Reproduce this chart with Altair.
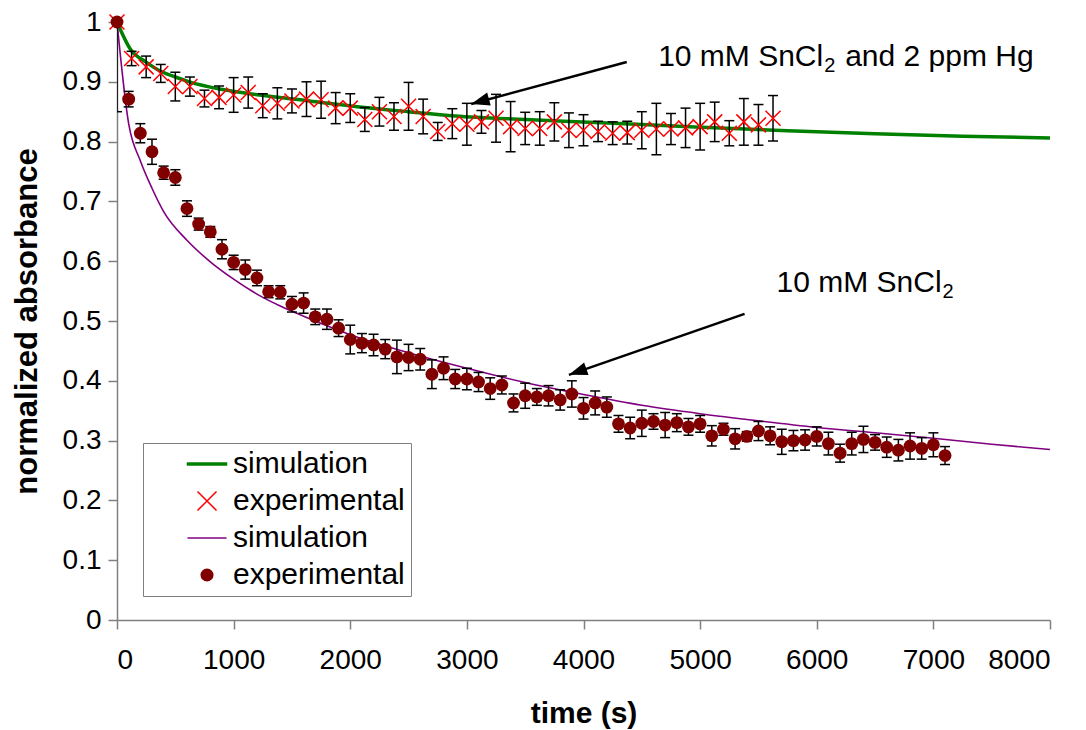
import altair as alt
import pandas as pd

# ---------------- data ----------------
# 10 mM SnCl2 + 2 ppm Hg : experimental (red crosses)
hg_time = [0, 125, 250, 375, 500, 625, 750, 875, 1000, 1125, 1250, 1375, 1500, 1625, 1750,
           1875, 2000, 2125, 2250, 2375, 2500, 2625, 2750, 2875, 3000, 3125, 3250, 3375, 3500,
           3625, 3750, 3875, 4000, 4125, 4250, 4375, 4500, 4625, 4750, 4875, 5000, 5125, 5250,
           5375, 5500, 5625]
hg_abs = [1.0, 0.939, 0.925, 0.914, 0.892, 0.892, 0.872, 0.874, 0.878, 0.882, 0.860, 0.864,
          0.868, 0.871, 0.870, 0.856, 0.856, 0.837, 0.850, 0.842, 0.859, 0.842, 0.817, 0.830,
          0.829, 0.833, 0.839, 0.825, 0.822, 0.822, 0.833, 0.819, 0.819, 0.817, 0.814, 0.815,
          0.819, 0.821, 0.821, 0.823, 0.825, 0.833, 0.814, 0.833, 0.828, 0.839]
hg_err = [0.004, 0.012, 0.018, 0.015, 0.024, 0.016, 0.014, 0.019, 0.029, 0.026, 0.020, 0.026,
          0.020, 0.029, 0.031, 0.026, 0.024, 0.020, 0.024, 0.023, 0.040, 0.029, 0.015, 0.025,
          0.035, 0.019, 0.040, 0.042, 0.027, 0.028, 0.032, 0.029, 0.026, 0.017, 0.019, 0.019,
          0.031, 0.043, 0.026, 0.033, 0.039, 0.033, 0.021, 0.039, 0.034, 0.038]

# 10 mM SnCl2 : experimental (dark red dots)
sn_time = [0, 100, 200, 300, 400, 500, 600, 700, 800, 900, 1000, 1100, 1200, 1300, 1400, 1500,
           1600, 1700, 1800, 1900, 2000, 2100, 2200, 2300, 2400, 2500, 2600, 2700, 2800, 2900,
           3000, 3100, 3200, 3300, 3400, 3500, 3600, 3700, 3800, 3900, 4000, 4100, 4200, 4300,
           4400, 4500, 4600, 4700, 4800, 4900, 5000, 5100, 5200, 5300, 5400, 5500, 5600, 5700,
           5800, 5900, 6000, 6100, 6200, 6300, 6400, 6500, 6600, 6700, 6800, 6900, 7000, 7100]
sn_abs = [1.0, 0.871, 0.814, 0.783, 0.748, 0.740, 0.688, 0.662, 0.649, 0.620, 0.598, 0.586,
          0.572, 0.549, 0.548, 0.528, 0.530, 0.507, 0.503, 0.488, 0.469, 0.463, 0.460, 0.453,
          0.440, 0.439, 0.436, 0.411, 0.421, 0.403, 0.403, 0.398, 0.387, 0.393, 0.363, 0.375,
          0.373, 0.375, 0.368, 0.378, 0.354, 0.363, 0.356, 0.328, 0.321, 0.329, 0.332, 0.326,
          0.330, 0.323, 0.328, 0.308, 0.319, 0.303, 0.307, 0.316, 0.308, 0.298, 0.300, 0.301,
          0.307, 0.295, 0.279, 0.295, 0.302, 0.297, 0.289, 0.284, 0.291, 0.287, 0.293, 0.275]
sn_err = [0.150, 0.013, 0.016, 0.021, 0.011, 0.013, 0.013, 0.010, 0.009, 0.016, 0.012, 0.016,
          0.013, 0.010, 0.011, 0.013, 0.017, 0.013, 0.017, 0.014, 0.024, 0.016, 0.018, 0.016,
          0.028, 0.022, 0.018, 0.024, 0.019, 0.016, 0.018, 0.016, 0.018, 0.015, 0.015, 0.021,
          0.014, 0.017, 0.017, 0.022, 0.018, 0.020, 0.017, 0.014, 0.018, 0.022, 0.013, 0.021,
          0.015, 0.014, 0.014, 0.017, 0.010, 0.017, 0.008, 0.016, 0.015, 0.021, 0.017, 0.017,
          0.016, 0.019, 0.015, 0.019, 0.022, 0.013, 0.017, 0.018, 0.022, 0.018, 0.020, 0.015]

# simulations
hg_sim_time = [0, 120, 250, 370, 500, 620, 880, 1220, 1650, 2080, 2500, 2900, 3500, 4100,
               5000, 5750, 6500, 7250, 8000]
hg_sim_abs = [1.0, 0.953, 0.933, 0.918, 0.908, 0.900, 0.888, 0.878, 0.868, 0.858, 0.850, 0.843,
              0.837, 0.832, 0.824, 0.818, 0.813, 0.809, 0.806]
sn_sim_time = [0, 100, 200, 300, 400, 600, 800, 1000, 1200, 1400, 1600, 1800, 2000, 2500, 3000,
               3500, 4000, 4500, 5000, 5500, 6000, 6500, 7000, 7500, 8000]
sn_sim_abs = [1.0, 0.830, 0.768, 0.722, 0.683, 0.635, 0.599, 0.570, 0.545, 0.525, 0.508, 0.492,
              0.477, 0.447, 0.421, 0.397, 0.377, 0.359, 0.345, 0.333, 0.322, 0.313, 0.304, 0.294,
              0.285]

# axis ticks
x_ticks = [0, 1000, 2000, 3000, 4000, 5000, 6000, 7000, 8000]
y_ticks = [0, 0.1, 0.2, 0.3, 0.4, 0.5, 0.6, 0.7, 0.8, 0.9, 1.0]

# legend
legend_keys = ["hg_sim", "hg_exp", "sn_sim", "sn_exp"]
legend_labels = ["simulation", "experimental", "simulation", "experimental"]

# annotations (data coordinates)
note_main = ["10 mM SnCl", "10 mM SnCl"]
note_sub = ["2", "2"]
note_t = [4640, 5655]
note_v = [0.926, 0.549]
note_tail_main = ["and 2 ppm Hg"]
arrow_t = [4371, 5381]
arrow_v = [0.933, 0.512]
arrow_t2 = [3037, 3875]
arrow_v2 = [0.863, 0.410]
arrow_angle = [254.6, 250.9]

# ---------------- chart ----------------
FONT = "Liberation Sans"
GREEN = "#008000"
RED = "#FF0000"
PURPLE = "#800080"
MAROON = "#800000"
CROSS = "M-1,-1L1,1M-1,1L1,-1"

xs = alt.Scale(domain=[0, 8000], nice=False, zero=False)
ys = alt.Scale(domain=[0, 1], nice=False, zero=False)

xaxis = alt.Axis(values=x_ticks, format="d", grid=False, domainColor="#808080", domainWidth=1.5,
                 tickColor="#808080", tickWidth=1.5, tickSize=9, labelFont=FONT, labelFontSize=28,
                 labelColor="black", labelPadding=17, titleFont=FONT, titleFontSize=30,
                 titleFontWeight="bold", titleColor="black", titleY=93, titleBaseline="middle")
yaxis = alt.Axis(values=y_ticks, format=".1~f", grid=False, domainColor="#808080", domainWidth=1.5,
                 tickColor="#808080", tickWidth=1.5, tickSize=9, labelFont=FONT, labelFontSize=28,
                 labelColor="black", labelPadding=7, titleFont=FONT, titleFontSize=31,
                 titleFontWeight="bold", titleColor="black", titleX=-90, titleY=299,
                 titleAngle=270, titleAlign="center", titleBaseline="middle")

XT = "time (s)"
YT = "normalized absorbance"


def X(field="t"):
    return alt.X(f"{field}:Q", scale=xs, axis=xaxis, title=XT)


def Y(field="v"):
    return alt.Y(f"{field}:Q", scale=ys, axis=yaxis, title=YT)


hg_df = pd.DataFrame({"t": hg_time, "v": hg_abs, "e": hg_err})
sn_df = pd.DataFrame({"t": sn_time, "v": sn_abs, "e": sn_err})
hg_sim = pd.DataFrame({"t": hg_sim_time, "v": hg_sim_abs})
sn_sim = pd.DataFrame({"t": sn_sim_time, "v": sn_sim_abs})


def errorbars(df):
    b = alt.Chart(df).transform_calculate(lo="datum.v - datum.e", hi="datum.v + datum.e")
    rule = b.mark_rule(color="black", strokeWidth=1.5, clip=True).encode(x=X(), y=Y("lo"), y2="hi:Q")
    cap_lo = b.mark_tick(orient="horizontal", size=10, thickness=1.5, color="black", clip=True,
                         opacity=1).encode(x=X(), y=Y("lo"))
    cap_hi = b.mark_tick(orient="horizontal", size=10, thickness=1.5, color="black", clip=True,
                         opacity=1).encode(x=X(), y=Y("hi"))
    return [rule, cap_lo, cap_hi]


green_line = alt.Chart(hg_sim).mark_line(color=GREEN, strokeWidth=3.5, interpolate="monotone").encode(
    x=X(), y=Y())
crosses = alt.Chart(hg_df).mark_point(shape=CROSS, filled=False, stroke=RED, strokeWidth=1.5,
                                      size=225, opacity=1).encode(x=X(), y=Y())
purple_line = alt.Chart(sn_sim).mark_line(color=PURPLE, strokeWidth=1.6, interpolate="monotone").encode(
    x=X(), y=Y())
dots = alt.Chart(sn_df).mark_point(shape="circle", filled=True, color=MAROON, size=165,
                                   opacity=1).encode(x=X(), y=Y())

# arrows
arr_df = pd.DataFrame({"t": arrow_t, "v": arrow_v, "t2": arrow_t2, "v2": arrow_v2, "ang": arrow_angle})
arrow_lines = alt.Chart(arr_df).mark_rule(color="black", strokeWidth=2.5).encode(
    x=X(), y=Y(), x2="t2:Q", y2="v2:Q")
arrow_heads = alt.Chart(arr_df).mark_point(shape="M0,0L-0.8,2.2L0.8,2.2Z", filled=True, color="black",
                                           size=280, opacity=1).encode(
    x=X("t2"), y=Y("v2"), angle=alt.Angle("ang:Q", scale=None))

# annotation texts
note_df = pd.DataFrame({"t": note_t, "v": note_v, "main": note_main, "sub": note_sub})
note_tail_df = pd.DataFrame({"t": note_t[:1], "v": note_v[:1], "txt": note_tail_main})
txt_main = alt.Chart(note_df).mark_text(align="left", baseline="alphabetic", font=FONT, fontSize=30,
                                        color="black").encode(x=X(), y=Y(), text="main:N")
txt_sub = alt.Chart(note_df).mark_text(align="left", baseline="alphabetic", font=FONT, fontSize=20,
                                       color="black", dx=166, dy=6).encode(x=X(), y=Y(), text="sub:N")
txt_tail = alt.Chart(note_tail_df).mark_text(align="left", baseline="alphabetic", font=FONT, fontSize=30,
                                             color="black", dx=187).encode(x=X(), y=Y(), text="txt:N")

# legend (a hidden layer that only feeds the legend)
LINE = "M-2.6,0L2.6,0"
THICK = "M-2.6,-0.12L2.6,-0.12L2.6,0.12L-2.6,0.12Z"
XMARK = "M-1.27,-1.27L1.27,1.27M-1.27,1.27L1.27,-1.27"
DOT = "M-0.77,0A0.77,0.77,0,1,1,0.77,0A0.77,0.77,0,1,1,-0.77,0Z"
label_expr = " : ".join(
    [f"datum.label == '{k}' ? '{l}'" for k, l in zip(legend_keys, legend_labels)]) + " : ''"
leg_df = pd.DataFrame({"series": legend_keys, "t": [-1000] * 4, "v": [-1] * 4})
legend = alt.Legend(title=None, orient="none", legendX=26, legendY=421, padding=6,
                    strokeColor="#808080", fillColor="white", symbolSize=225, symbolStrokeWidth=1.5,
                    symbolOffset=43, labelOffset=11, rowPadding=7, labelFont=FONT, labelFontSize=30,
                    labelColor="black", labelLimit=400, labelExpr=label_expr,
                    labelAlign="left", labelBaseline="middle")
# widen the legend's right padding a little (the box is wider than its text in the reference)
legend_layer = alt.Chart(leg_df).mark_point(clip=True, opacity=1).encode(
    x=X(), y=Y(),
    shape=alt.Shape("series:N", scale=alt.Scale(domain=legend_keys, range=[THICK, XMARK, LINE, DOT]),
                    legend=legend),
    stroke=alt.Stroke("series:N", scale=alt.Scale(domain=legend_keys, range=[GREEN, RED, PURPLE, MAROON]),
                      legend=legend),
    fill=alt.Fill("series:N", scale=alt.Scale(domain=legend_keys,
                                              range=[GREEN, "transparent", "transparent", MAROON]),
                  legend=legend),
)

layers = ([green_line] + errorbars(hg_df) + [crosses, purple_line] + errorbars(sn_df) +
          [dots, arrow_lines, arrow_heads, txt_main, txt_sub, txt_tail, legend_layer])

chart = alt.layer(*layers).properties(
    width=933, height=598,
    autosize=alt.AutoSizeParams(type="none"),
    padding={"left": 117, "top": 22, "right": 36, "bottom": 110},
    background="white",
).configure_view(stroke=None).configure_legend(
    labelLimit=400,
)

chart.save("out.html", embed_options={"renderer": "svg", "actions": False})
